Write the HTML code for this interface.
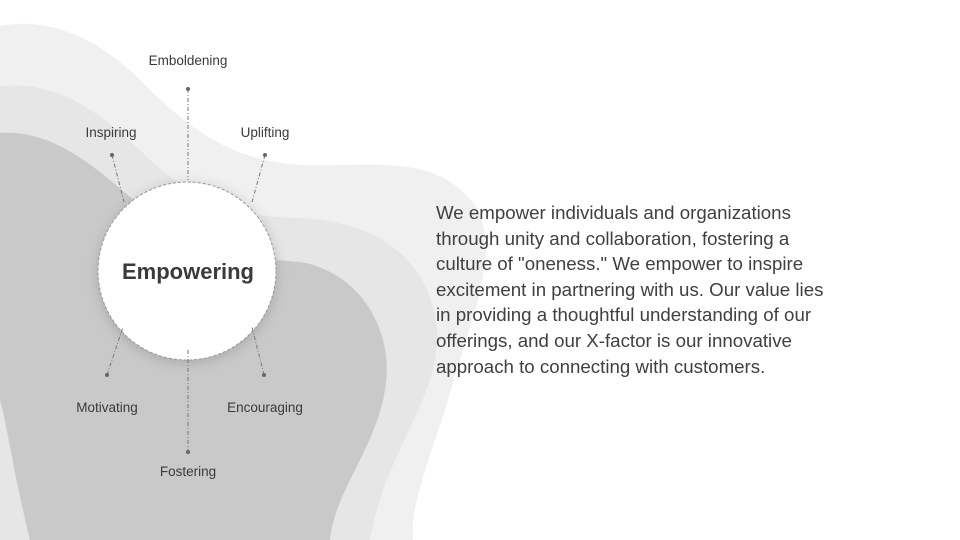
<!DOCTYPE html>
<html><head><meta charset="utf-8"><style>
html,body{margin:0;padding:0;width:960px;height:540px;overflow:hidden;background:#fff;font-family:"Liberation Sans",sans-serif}
.lbl{position:absolute;font-size:13.5px;color:#3a3a3a;transform:translateX(-50%);white-space:nowrap}
.p{position:absolute;left:436px;top:200px;width:520px;font-size:18.7px;line-height:25.6px;color:#404040}
</style></head><body>
<svg width="960" height="540" style="position:absolute;left:0;top:0">
<defs><filter id="sh" x="-30%" y="-30%" width="160%" height="160%"><feGaussianBlur stdDeviation="6"/></filter></defs>
<path d="M0,26 C40,18 90,30 140,80 C190,130 230,160 300,165 C370,168 440,150 478,210 C500,260 470,320 445,410 C425,470 410,510 413,540 L0,540 Z" fill="#f0f0f0"/>
<path d="M0,86 C50,82 90,100 150,160 C200,205 240,217 300,218 C380,222 430,260 437,330 C440,400 385,450 370,540 L0,540 Z" fill="#e6e6e6"/>
<path d="M0,133 C50,130 90,160 150,215 C200,255 250,258 300,262 C360,272 395,330 385,390 C375,450 335,490 330,540 L30,540 C15,480 8,430 0,400 Z" fill="#c9c9c9"/>
<circle cx="187" cy="274" r="89" fill="#888" opacity="0.5" filter="url(#sh)"/>
<circle cx="187" cy="271" r="89" fill="#fff" stroke="#999" stroke-width="1" stroke-dasharray="3,2"/>
<g stroke="#777" stroke-width="1" stroke-dasharray="4,2,1,2" fill="none">
<line x1="188" y1="89" x2="188" y2="180"/>
<line x1="112" y1="155" x2="124" y2="202"/>
<line x1="265" y1="155" x2="252" y2="202"/>
<line x1="107" y1="375" x2="123" y2="327"/>
<line x1="264" y1="375" x2="252" y2="327"/>
<line x1="188" y1="350" x2="188" y2="452"/>
</g>
<g fill="#666">
<circle cx="188" cy="89" r="2"/><circle cx="112" cy="155" r="2"/><circle cx="265" cy="155" r="2"/>
<circle cx="107" cy="375" r="2"/><circle cx="264" cy="375" r="2"/><circle cx="188" cy="452" r="2"/>
</g>
<text x="188" y="279" text-anchor="middle" font-family="Liberation Sans, sans-serif" font-weight="bold" font-size="22" fill="#3a3a3a">Empowering</text>
</svg>
<div class="lbl" style="left:188px;top:53px">Emboldening</div>
<div class="lbl" style="left:111px;top:125px">Inspiring</div>
<div class="lbl" style="left:265px;top:125px">Uplifting</div>
<div class="lbl" style="left:107px;top:400px">Motivating</div>
<div class="lbl" style="left:265px;top:400px">Encouraging</div>
<div class="lbl" style="left:188px;top:464px">Fostering</div>
<div class="p">We empower individuals and organizations<br>through unity and collaboration, fostering a<br>culture of "oneness." We empower to inspire<br>excitement in partnering with us. Our value lies<br>in providing a thoughtful understanding of our<br>offerings, and our X-factor is our innovative<br>approach to connecting with customers.</div>
</body></html>
